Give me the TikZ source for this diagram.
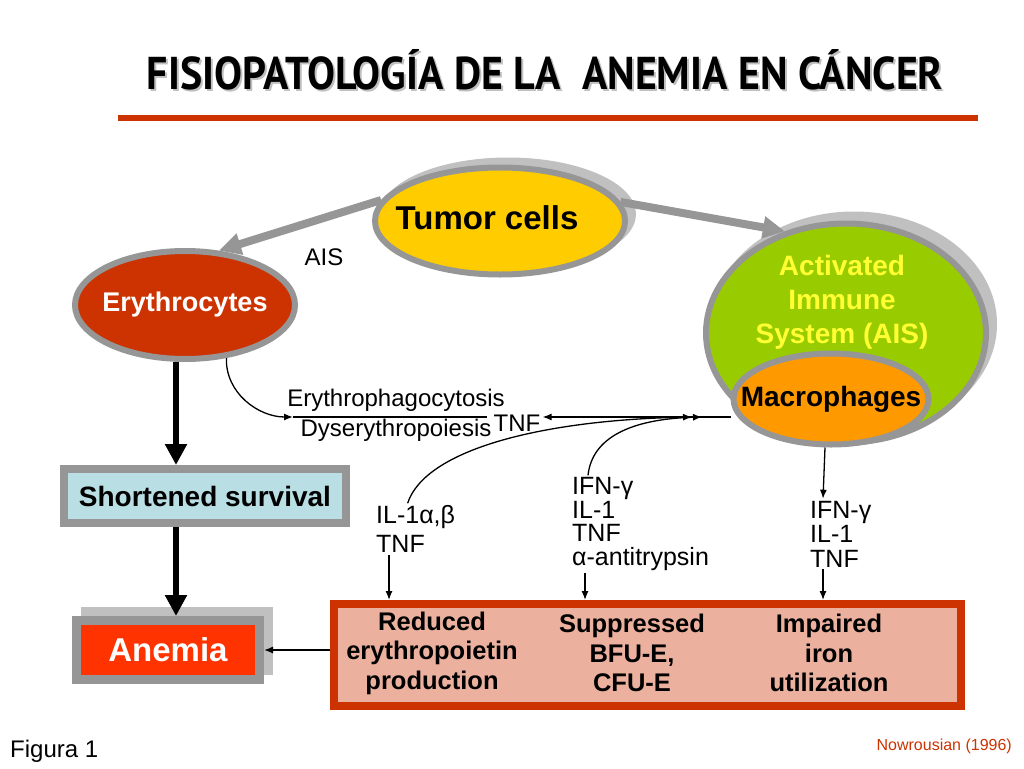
\documentclass[tikz,border=0pt]{standalone}
\usepackage{fontspec}
\setmainfont{Liberation Sans}
\newfontfamily\titlefont{PT Sans}
\usetikzlibrary{shapes.geometric,arrows.meta}

\definecolor{rimgray}{RGB}{150,150,150}
\definecolor{shadowgray}{RGB}{192,192,192}
\definecolor{tumoryellow}{RGB}{255,204,0}
\definecolor{eryred}{RGB}{204,51,0}
\definecolor{aisgreen}{RGB}{153,204,0}
\definecolor{aisyellow}{RGB}{255,255,51}
\definecolor{macroorange}{RGB}{255,153,0}
\definecolor{survivalblue}{RGB}{185,222,227}
\definecolor{anemiared}{RGB}{255,51,0}
\definecolor{effectpink}{RGB}{235,176,158}

\newcommand{\fsize}[2]{\fontsize{#1}{#2}\selectfont}
\newcommand{\titletext}{\titlefont\bfseries\fsize{46}{50}\scalebox{0.91}[1]{FISIOPATOLOGÍA DE LA~~ANEMIA EN CÁNCER}}

\tikzset{
  cell/.style={ellipse, draw=rimgray, line width=6pt, inner sep=0pt, font=\bfseries},
  cellshadow/.style={ellipse, fill=shadowgray, inner sep=0pt},
  rimbox/.style={rectangle, draw=rimgray, line width=8pt, inner sep=0pt, font=\bfseries},
  boxshadow/.style={rectangle, fill=shadowgray, inner sep=0pt},
  grayarrow/.style={draw=rimgray, line width=8pt, -{Triangle[length=22pt,width=21pt]}},
  blackarrow/.style={line width=6pt, -{Triangle[length=21pt,width=21pt]}},
  thinarrow/.style={line width=1.3pt, -{Latex[length=9pt,width=7pt]}},
  lbl/.style={inner sep=2pt, font=\fsize{24}{28}},
  effect/.style={inner sep=0pt, align=center, font=\bfseries\fsize{25.5}{29.5}}
}

\begin{document}
\begin{tikzpicture}[x=1pt, y=-1pt]
\useasboundingbox (0,0) rectangle (1024,768);

% title and rule
\node[text=shadowgray] (titleshadow) at (547,72) {\titletext};
\node (title) at (545,70) {\titletext};
\draw[eryred, line width=6pt] (118,118) -- (978,118);

% cells
\node[cellshadow, minimum width=256pt, minimum height=113pt] (tumorshadow) at (508,214) {};
\node[cell, fill=tumoryellow, minimum width=250pt, minimum height=107pt] (tumor) at (500,221)
  {\makebox[0pt]{\fsize{33}{38}\raisebox{6pt}{Tumor cells}\kern26pt}};
\node[cell, fill=eryred, text=white, minimum width=220pt, minimum height=108pt] (ery) at (185,305)
  {\makebox[0pt]{\fsize{27}{30}Erythrocytes}};
\node[cellshadow, minimum width=286pt, minimum height=225pt] (aisshadow) at (854,324) {};
\node[cell, fill=aisgreen, minimum width=280pt, minimum height=219pt] (ais) at (846,333) {};
\node[cell, fill=macroorange, minimum width=195pt, minimum height=91pt] (macro) at (831,399)
  {\makebox[0pt]{\fsize{28}{32}Macrophages}};
\node[align=center, text=aisyellow, font=\bfseries\fsize{28}{34}] (aistext) at (842,302)
  {Activated\\Immune\\System (AIS)};

% gray arrows from the tumor
\draw[grayarrow] (tumor.170) -- (ery.58);
\draw[grayarrow] (tumor.9) -- (ais.121);
\node[lbl] (aislabel) at (324,257) {AIS};

% boxes
\node[rimbox, fill=survivalblue, minimum width=282pt, minimum height=54pt] (short) at (205,496)
  {\fsize{28}{32}Shortened survival};
\node[boxshadow, minimum width=192pt, minimum height=68pt] (anemiashadow) at (177,641) {};
\node[rimbox, line width=9pt, fill=anemiared, text=white, minimum width=183pt, minimum height=59pt] (anemia) at (168,650)
  {\fsize{33}{36}Anemia};
\node[rectangle, draw=eryred, line width=8pt, fill=effectpink, minimum width=627pt, minimum height=102pt] (effects) at (647.5,655) {};
\node[effect] (reduced) at (432,653) {Reduced\\erythropoietin\\production};
\node[effect] (suppressed) at (632,653) {Suppressed\\BFU-E,\\CFU-E};
\node[effect] (impaired) at (829,653) {Impaired\\iron\\utilization};

\draw[blackarrow] ([xshift=-9pt]ery.south) -- ([xshift=-29pt]short.north);
\draw[blackarrow] ([xshift=-29pt]short.south) -- ([xshift=8pt]anemia.north);
\draw[thinarrow] (anemia.east -| effects.west) -- (anemia.east);

% mediators
\node[lbl] (phago) at (396,400) {Erythrophagocytosis};
\node[lbl] (dysery) at (396,430) {Dyserythropoiesis};
\node[lbl, inner sep=0pt] (tnf) at (517,423) {TNF};
\node[lbl, anchor=west, align=left, font=\fsize{25}{29}] (il) at (374,529) {IL-1α,β\\TNF};
\node[lbl, anchor=west, align=left, font=\fsize{25}{23.5}] (ifnA) at (570,524) {IFN-γ\\IL-1\\TNF\\α-antitrypsin};
\node[lbl, anchor=west, align=left, font=\fsize{25}{24.5}] (ifnB) at (808,534) {IFN-γ\\IL-1\\TNF};

\coordinate (sepL) at (293,417);
\coordinate (meetA) at (692,417);
\coordinate (meetB) at (702,417);

\draw[thinarrow] (ery.-52) to[out=-92, in=180] (sepL);
\draw[line width=1.3pt] (sepL) -- ([xshift=-6pt]sepL -| tnf.west);
\draw[thinarrow] (macro.west |- sepL) -- ([xshift=2pt]tnf.east |- sepL);
\draw[thinarrow] ([xshift=-8pt]il.north) .. controls (425,450) and (540,420) .. (meetA);
\draw[thinarrow] ([xshift=18pt]ifnA.north west) .. controls (592,438) and (630,419) .. (meetB);
\draw[thinarrow] ([xshift=-6pt]macro.south) -- ([xshift=15pt]ifnB.north west);

\coordinate (ilfoot) at ([xshift=15pt]il.south west);
\coordinate (ifnAfoot) at ([xshift=15pt]ifnA.south west);
\coordinate (ifnBfoot) at ([xshift=15pt]ifnB.south west);
\draw[thinarrow] (ilfoot) -- (ilfoot |- effects.north);
\draw[thinarrow] (ifnAfoot) -- (ifnAfoot |- effects.north);
\draw[thinarrow] (ifnBfoot) -- (ifnBfoot |- effects.north);

% footer
\node[lbl, anchor=west] (figure) at (8,751) {Figura 1};
\node[lbl, anchor=east, text=eryred, font=\fsize{16}{18}] (source) at (1014,746) {Nowrousian (1996)};
\end{tikzpicture}
\end{document}
